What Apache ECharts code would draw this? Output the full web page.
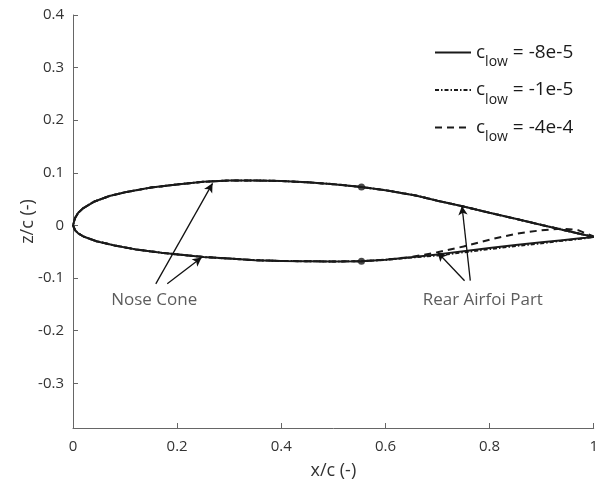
<!DOCTYPE html>
<html>
<head>
<meta charset="utf-8">
<script src="https://cdn.jsdelivr.net/npm/echarts@6/dist/echarts.min.js"></script>
<style>
  html, body { margin: 0; padding: 0; background: #fff; }
  #chart { width: 601px; height: 485px; }
</style>
</head>
<body>
<div id="chart"></div>
<script>
// upper surface, trailing edge -> leading edge (same for all three cases)
const xUpper = [1.0, 0.95, 0.9, 0.85, 0.8, 0.75, 0.7, 0.658, 0.6, 0.554, 0.5, 0.45, 0.4, 0.35, 0.3, 0.25, 0.2, 0.15, 0.1, 0.07, 0.04, 0.02, 0.01, 0.004, 0];
const zUpper = [-0.022, -0.0105, 0.001, 0.0126, 0.024, 0.036, 0.047, 0.057, 0.067, 0.073, 0.0785, 0.082, 0.0845, 0.0855, 0.0855, 0.083, 0.078, 0.072, 0.063, 0.056, 0.045, 0.033, 0.024, 0.014, 0];

// lower surface, leading edge -> trailing edge
const xLower = [0, 0.004, 0.01, 0.02, 0.045, 0.08, 0.12, 0.17, 0.25, 0.3, 0.35, 0.4, 0.45, 0.5, 0.554, 0.6, 0.65, 0.7, 0.75, 0.8, 0.85, 0.9, 0.94, 0.97, 1.0];
const zLowerA = [0, -0.009, -0.015, -0.021, -0.030, -0.038, -0.0455, -0.052, -0.060, -0.063, -0.066, -0.0675, -0.068, -0.0685, -0.068, -0.065, -0.0605, -0.055, -0.049, -0.043, -0.037, -0.032, -0.028, -0.025, -0.022];
const zLowerB = [0, -0.009, -0.015, -0.021, -0.030, -0.038, -0.0455, -0.052, -0.060, -0.063, -0.066, -0.0675, -0.068, -0.0685, -0.068, -0.0655, -0.061, -0.057, -0.051, -0.045, -0.039, -0.034, -0.029, -0.026, -0.022];
const zLowerC = [0, -0.009, -0.015, -0.021, -0.030, -0.038, -0.0455, -0.052, -0.060, -0.063, -0.066, -0.0675, -0.068, -0.0685, -0.068, -0.065, -0.060, -0.051, -0.040, -0.027, -0.016, -0.009, -0.006, -0.009, -0.021];

const cLowValues = ['-8e-5', '-1e-5', '-4e-4'];

// junction points between nose cone and rear part
const jointX = [0.554, 0.554];
const jointZ = [0.073, -0.068];

// annotation arrows [from, to]
const arrows = [
  [[0.159, -0.111], [0.268, 0.080]],
  [[0.181, -0.111], [0.247, -0.061]],
  [[0.763, -0.105], [0.747, 0.037]],
  [[0.752, -0.105], [0.700, -0.051]]
];
const noteText = ['Nose Cone', 'Rear Airfoi Part'];
const noteX = [0.156, 0.787];
const noteZ = [-0.142, -0.142];

const xTicks = [0, 0.2, 0.4, 0.6, 0.8, 1];
const yTicks = [-0.3, -0.2, -0.1, 0, 0.1, 0.2, 0.3, 0.4];

const FONT = 'Open Sans';
const INK = '#1a1a1a';

const profile = (zLow) => {
  const pts = xUpper.map((x, i) => [x, zUpper[i]]);
  return pts.concat(xLower.map((x, i) => [x, zLow[i]]));
};

const names = cLowValues.map(v => 'c_low = ' + v);

const chart = echarts.init(document.getElementById('chart'));

chart.setOption({
  animation: false,
  grid: { left: 73, right: 1, top: 15, bottom: 56 },
  legend: {
    data: names,
    orient: 'vertical',
    left: 429,
    top: 38,
    itemWidth: 36,
    itemHeight: 14,
    itemGap: 11,
    selectedMode: false,
    itemStyle: { opacity: 0 },
    formatter: (name) => '{c|c}{s|low}{c| ' + name.split(' ').slice(1).join(' ') + '}',
    textStyle: {
      rich: {
        c: { fontFamily: FONT, fontSize: 19, color: INK },
        s: { fontFamily: FONT, fontSize: 14, color: INK, padding: [20, 0, 0, 0] }
      }
    }
  },
  xAxis: {
    type: 'value',
    min: 0,
    max: 1,
    interval: 0.2,
    name: 'x/c (-)',
    nameLocation: 'middle',
    nameGap: 34,
    nameMoveOverlap: false,
    nameTextStyle: { fontFamily: FONT, fontSize: 18, color: '#333' },
    axisLine: { onZero: false, lineStyle: { color: '#666', width: 1 } },
    axisTick: { inside: true, length: 5, lineStyle: { color: '#666' } },
    axisLabel: {
      fontFamily: FONT, fontSize: 15, color: '#333', margin: 11,
      customValues: xTicks,
      formatter: v => String(v)
    },
    splitLine: { show: false }
  },
  yAxis: {
    type: 'value',
    min: -0.385,
    max: 0.4,
    name: 'z/c (-)',
    nameLocation: 'middle',
    nameRotate: 90,
    nameGap: 36,
    nameMoveOverlap: false,
    nameTextStyle: { fontFamily: FONT, fontSize: 18, color: '#333' },
    axisLine: { show: true, onZero: false, lineStyle: { color: '#666', width: 1 } },
    axisTick: { show: true, inside: true, length: 5, customValues: yTicks, lineStyle: { color: '#666' } },
    axisLabel: {
      fontFamily: FONT, fontSize: 15, color: '#333', margin: 9,
      customValues: yTicks,
      formatter: v => String(v)
    },
    splitLine: { show: false }
  },
  series: [
    {
      name: names[2],
      type: 'line',
      data: profile(zLowerC),
      symbol: 'none',
      itemStyle: { color: INK },
      lineStyle: { color: INK, width: 2, type: [7, 5] },
      z: 2
    },
    {
      name: names[1],
      type: 'line',
      data: profile(zLowerB),
      symbol: 'none',
      itemStyle: { color: INK },
      lineStyle: { color: INK, width: 2, type: [4, 2, 1.5, 2] },
      z: 3
    },
    {
      name: names[0],
      type: 'line',
      data: profile(zLowerA),
      symbol: 'none',
      itemStyle: { color: INK },
      lineStyle: { color: INK, width: 2 },
      z: 4,
      markLine: {
        silent: true,
        symbol: ['none', 'arrow'],
        symbolSize: [7, 9],
        label: { show: false },
        lineStyle: { color: '#111', width: 1.3, type: 'solid' },
        data: arrows.map(a => [{ coord: a[0] }, { coord: a[1] }])
      }
    },
    {
      name: 'joints',
      type: 'scatter',
      data: jointX.map((x, i) => [x, jointZ[i]]),
      symbolSize: 7,
      itemStyle: { color: INK },
      z: 5
    },
    {
      name: 'notes',
      type: 'scatter',
      data: noteText.map((t, i) => ({ name: t, value: [noteX[i], noteZ[i]] })),
      symbolSize: 1,
      itemStyle: { color: 'rgba(0,0,0,0)' },
      label: {
        show: true,
        position: 'inside',
        formatter: p => p.name,
        fontFamily: FONT,
        fontSize: 17,
        color: '#333'
      },
      z: 6
    }
  ]
});
</script>
</body>
</html>
